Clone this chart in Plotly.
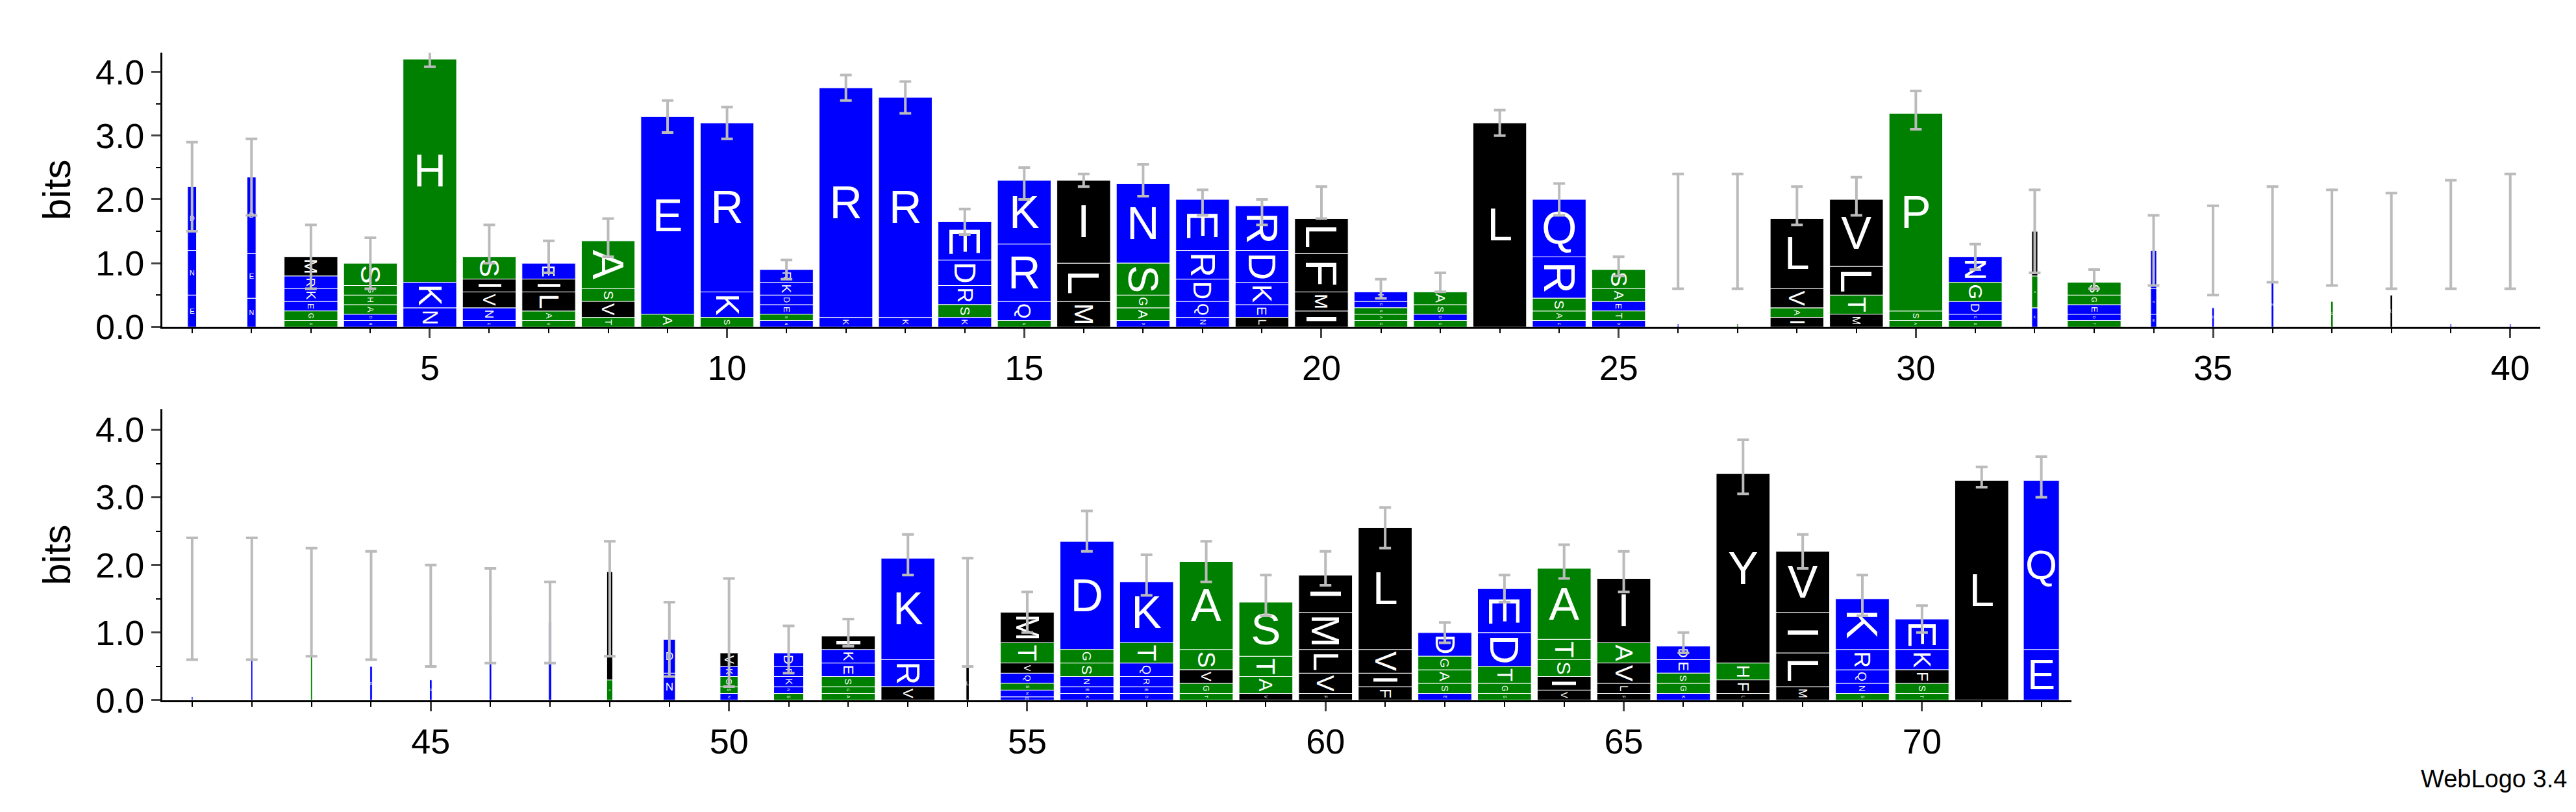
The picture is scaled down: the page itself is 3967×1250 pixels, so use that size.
import plotly.graph_objects as go

positions = list(range(1, 73))
stacks = [
 "D:1.0 N:0.7 E:0.5", "D:1.2 E:0.7 N:0.45", "M:0.3 R:0.2 K:0.2 E:0.15 G:0.15 S:0.1",
 "S:0.35 G:0.15 H:0.15 A:0.15 D:0.1 N:0.1", "H:3.5 K:0.4 N:0.3", "S:0.35 I:0.2 V:0.25 N:0.2 E:0.1",
 "E:0.25 I:0.2 L:0.3 A:0.15 G:0.1", "A:0.75 S:0.2 V:0.25 T:0.15", "E:3.1 A:0.2",
 "R:2.65 K:0.4 S:0.15", "R:0.2 K:0.2 D:0.15 E:0.15 S:0.1 N:0.1", "R:3.6 K:0.15",
 "R:3.45 K:0.15", "E:0.6 D:0.4 R:0.3 S:0.2 K:0.15", "K:1.0 R:0.9 Q:0.3 S:0.1",
 "I:1.3 L:0.6 M:0.4", "N:1.25 S:0.5 G:0.2 A:0.2 D:0.1", "E:0.8 R:0.45 D:0.35 Q:0.25 N:0.15",
 "R:0.7 D:0.5 K:0.35 E:0.2 L:0.15", "L:0.55 F:0.6 M:0.3 I:0.25", "K:0.15 E:0.1 S:0.1 A:0.1 G:0.1",
 "A:0.2 S:0.15 D:0.1 G:0.1", "L:3.2", "Q:0.9 R:0.65 S:0.2 A:0.15 E:0.1",
 "S:0.3 A:0.2 E:0.15 T:0.15 D:0.1", "D:0.05", "G:0.05", "L:1.1 V:0.3 A:0.15 I:0.15",
 "V:1.05 L:0.45 T:0.3 M:0.2", "P:3.1 S:0.15 A:0.1", "N:0.4 G:0.3 D:0.2 E:0.1 S:0.1",
 "L:0.7 G:0.5 K:0.3", "S:0.2 G:0.15 E:0.15 D:0.1 T:0.1", "D:0.6 N:0.4 E:0.2", "D:0.3",
 "N:0.7", "G:0.4", "L:0.5", "D:0.05", "D:0.05",
 "D:0.05", "D:1.5", "G:1.45", "D:0.5", "D:0.3", "N:1.25", "D:1.15", "L:1.6 G:0.3",
 "D:0.5 N:0.4", "V:0.2 K:0.15 G:0.15 S:0.1 N:0.1", "D:0.2 R:0.15 K:0.15 N:0.1 S:0.1",
 "I:0.2 K:0.2 E:0.2 S:0.15 G:0.1 A:0.1", "K:1.5 R:0.4 V:0.2", "L:0.5",
 "M:0.45 T:0.3 V:0.15 Q:0.15 S:0.1 N:0.1 E:0.05", "D:1.6 G:0.2 S:0.2 N:0.15 E:0.1 K:0.1",
 "K:0.9 T:0.3 Q:0.2 R:0.15 E:0.1 D:0.1", "A:1.3 S:0.3 V:0.2 G:0.15 T:0.1",
 "S:0.8 T:0.3 A:0.25 V:0.1", "I:0.55 M:0.55 L:0.35 V:0.3 F:0.1", "L:1.8 V:0.35 I:0.2 F:0.2",
 "D:0.35 G:0.2 A:0.2 S:0.15 E:0.1", "E:0.65 D:0.5 T:0.25 G:0.15 S:0.1",
 "A:1.05 T:0.3 S:0.25 I:0.2 V:0.15", "I:0.95 A:0.3 V:0.3 L:0.15 F:0.1",
 "D:0.2 E:0.2 S:0.15 G:0.15 K:0.1", "Y:2.8 H:0.25 F:0.2 L:0.1", "V:0.9 I:0.6 L:0.5 M:0.2",
 "K:0.75 R:0.3 Q:0.2 N:0.15 S:0.1", "E:0.45 K:0.3 F:0.2 S:0.15 T:0.1", "L:3.25", "Q:2.5 E:0.75",
]
widths = [0.15, 0.15, 0.9, 0.9, 0.9, 0.9, 0.9, 0.9, 0.9, 0.9, 0.9, 0.9, 0.9, 0.9, 0.9, 0.9, 0.9, 0.9, 0.9, 0.9,
          0.9, 0.9, 0.9, 0.9, 0.9, 0.03, 0.03, 0.9, 0.9, 0.9, 0.9, 0.1, 0.9, 0.1, 0.04, 0.04, 0.04, 0.04, 0.03, 0.03,
          0.03, 0.03, 0.03, 0.04, 0.04, 0.04, 0.05, 0.1, 0.2, 0.3, 0.5, 0.9, 0.9, 0.05, 0.9, 0.9, 0.9, 0.9, 0.9, 0.9,
          0.9, 0.9, 0.9, 0.9, 0.9, 0.9, 0.9, 0.9, 0.9, 0.9, 0.9, 0.6]
totals = [2.2, 2.35, 1.1, 1.0, 4.2, 1.3, 1.1, 1.4, 3.3, 3.2, 0.9, 3.75, 3.6, 1.65, 2.25, 2.3, 2.3, 1.95, 1.8, 1.95,
          0.6, 0.7, 3.2, 2.0, 0.95, 1.5, 1.5, 1.9, 2.05, 3.4, 1.1, 1.5, 0.75, 1.2, 1.2, 1.45, 1.4, 1.35, 1.45, 1.5,
          1.5, 1.5, 1.45, 1.4, 1.25, 1.25, 1.15, 1.5, 0.9, 1.0, 0.75, 1.0, 2.15, 1.3, 1.3, 2.5, 1.85, 2.05, 1.55, 1.95,
          2.55, 1.0, 1.65, 2.05, 1.9, 0.85, 3.45, 2.2, 1.55, 1.2, 3.3, 3.3]
errors = [0.7, 0.6, 0.5, 0.4, 0.12, 0.3, 0.25, 0.3, 0.25, 0.25, 0.15, 0.2, 0.25, 0.2, 0.25, 0.1, 0.25, 0.2, 0.2, 0.25,
          0.15, 0.15, 0.2, 0.25, 0.15, 0.9, 0.9, 0.3, 0.3, 0.3, 0.2, 0.65, 0.15, 0.55, 0.7, 0.75, 0.75, 0.75, 0.85, 0.9,
          0.9, 0.9, 0.8, 0.8, 0.75, 0.7, 0.6, 0.85, 0.55, 0.8, 0.35, 0.2, 0.3, 0.8, 0.3, 0.3, 0.3, 0.3, 0.3, 0.25,
          0.3, 0.15, 0.2, 0.25, 0.3, 0.15, 0.4, 0.25, 0.3, 0.2, 0.15, 0.3]
colors = {"blue": "#0000FF", "green": "#008000", "black": "#000000"}
groups = {"blue": "RKDENQ", "green": "SGHTAPC", "black": "YVMLFIW"}

def color_of(a):
    for k, v in groups.items():
        if a in v:
            return k

fig = go.Figure()
for panel, (lo, hi) in enumerate([(1, 40), (41, 72)]):
    xa = "x" if panel == 0 else "x2"
    ya = "y" if panel == 0 else "y2"
    segs = {k: dict(x=[], y=[], base=[], w=[], t=[]) for k in colors}
    for i, p in enumerate(positions):
        if not lo <= p <= hi:
            continue
        items = [(s.split(":")[0], float(s.split(":")[1])) for s in stacks[i].split()]
        b = 0.0
        for a, h in reversed(items):
            c = color_of(a)
            segs[c]["x"].append(p); segs[c]["y"].append(h); segs[c]["base"].append(b)
            segs[c]["w"].append(widths[i]); segs[c]["t"].append(a)
            b += h
    for c, d in segs.items():
        fig.add_bar(x=d["x"], y=d["y"], base=d["base"], width=d["w"], text=d["t"],
                    marker=dict(color=colors[c], line=dict(color="white", width=1)),
                    textposition="inside", insidetextanchor="middle",
                    textfont=dict(color="white", size=70, family="Liberation Sans"),
                    xaxis=xa, yaxis=ya, showlegend=False, hoverinfo="skip")
    px = [p for p in positions if lo <= p <= hi]
    fig.add_scatter(x=px, y=[totals[p - 1] for p in px], mode="markers",
                    marker=dict(size=0.1, color="rgba(0,0,0,0)"),
                    error_y=dict(type="data", array=[errors[p - 1] for p in px],
                                 color="#BBBBBB", thickness=4, width=9),
                    xaxis=xa, yaxis=ya, showlegend=False, hoverinfo="skip")

axfont = dict(size=54, family="Liberation Sans", color="black")
xcommon = dict(showline=True, linecolor="black", linewidth=3, ticks="outside", ticklen=14, tickwidth=3,
               tickfont=axfont, showgrid=False, zeroline=False, dtick=5, tick0=0,
               minor=dict(ticks="outside", ticklen=7, tickwidth=2, dtick=1, tickcolor="black"))
ycommon = dict(showline=True, linecolor="black", linewidth=3, ticks="outside", ticklen=14, tickwidth=3,
               tickfont=axfont, showgrid=False, zeroline=False, range=[0, 4.3],
               tickvals=[0, 1, 2, 3, 4], tickformat=".1f",
               title=dict(text="bits", font=dict(size=60, family="Liberation Sans", color="black"), standoff=20),
               minor=dict(ticks="outside", ticklen=7, tickwidth=2, dtick=0.5, tickcolor="black"))
fig.update_layout(
    width=3967, height=1250, plot_bgcolor="white", paper_bgcolor="white",
    margin=dict(l=0, r=0, t=0, b=0), barmode="overlay",
    xaxis=dict(domain=[0.061, 0.984], range=[0.5, 40.5], anchor="y", **xcommon),
    yaxis=dict(domain=[0.594, 0.94], anchor="x", **ycommon),
    xaxis2=dict(domain=[0.061, 0.802], range=[40.5, 72.5], anchor="y2", **xcommon),
    yaxis2=dict(domain=[0.123, 0.49], anchor="x2", **ycommon),
    uniformtext=dict(mode=False),
    annotations=[dict(text="WebLogo 3.4", x=0.995, y=0.005, xref="paper", yref="paper",
                      xanchor="right", yanchor="bottom", showarrow=False,
                      font=dict(size=38, family="Liberation Sans", color="black"))],
)
fig.write_html("out.html")
